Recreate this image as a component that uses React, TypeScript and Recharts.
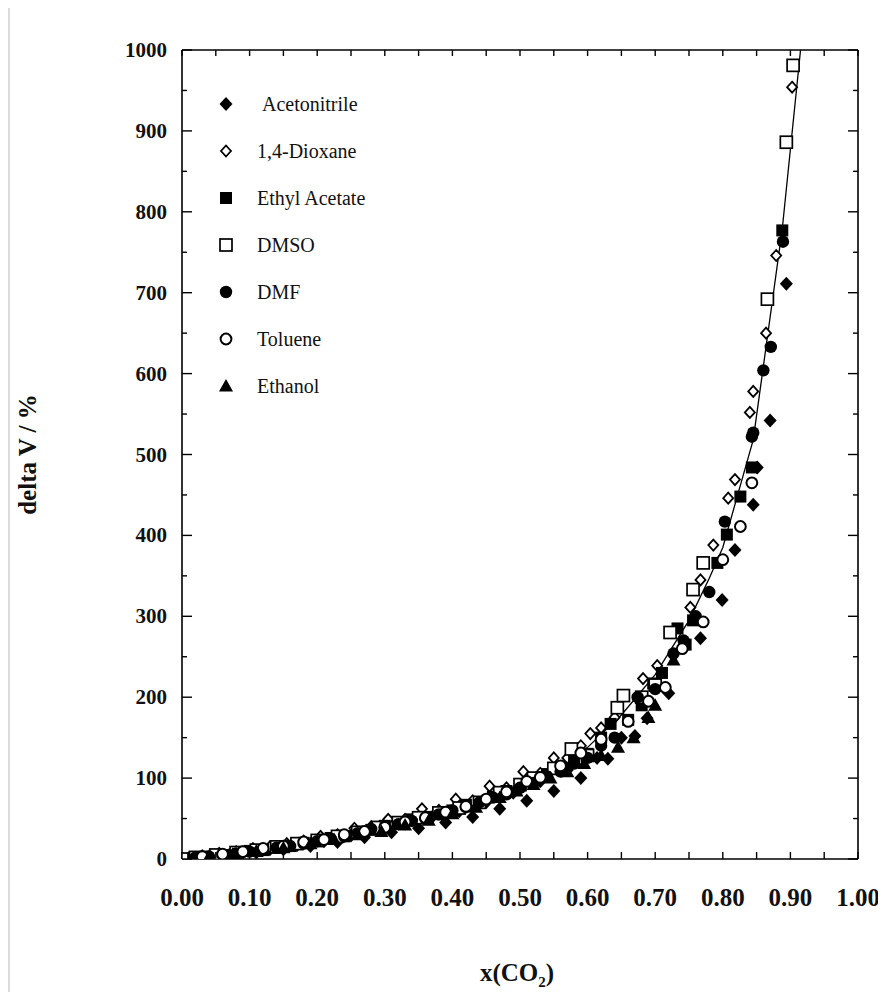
import React from 'react';
import { ScatterChart, Scatter, XAxis, YAxis, Legend } from 'recharts';

const acetonitrile = [
  { x: 0.01, y: 1 }, { x: 0.03, y: 2 }, { x: 0.05, y: 4 }, { x: 0.07, y: 5 }, { x: 0.09, y: 8 },
  { x: 0.11, y: 8 }, { x: 0.13, y: 12 }, { x: 0.15, y: 12 }, { x: 0.17, y: 17 }, { x: 0.19, y: 16 },
  { x: 0.21, y: 22 }, { x: 0.23, y: 21 }, { x: 0.25, y: 29 }, { x: 0.27, y: 27 }, { x: 0.29, y: 36 },
  { x: 0.31, y: 33 }, { x: 0.33, y: 44 }, { x: 0.35, y: 38 }, { x: 0.37, y: 52 }, { x: 0.39, y: 45 },
  { x: 0.41, y: 59 }, { x: 0.43, y: 52 }, { x: 0.45, y: 70 }, { x: 0.47, y: 62 }, { x: 0.49, y: 82 },
  { x: 0.51, y: 72 }, { x: 0.53, y: 96 }, { x: 0.55, y: 84 }, { x: 0.57, y: 110 }, { x: 0.59, y: 100 },
  { x: 0.614, y: 125 }, { x: 0.63, y: 124 }, { x: 0.65, y: 150 }, { x: 0.67, y: 152 }, { x: 0.688, y: 174 },
  { x: 0.72, y: 205 }, { x: 0.767, y: 273 }, { x: 0.799, y: 320 }, { x: 0.818, y: 382 }, { x: 0.845, y: 438 },
  { x: 0.851, y: 484 }, { x: 0.87, y: 542 }, { x: 0.894, y: 711 },
];
const dioxane = [
  { x: 0.03, y: 4 }, { x: 0.055, y: 7 }, { x: 0.08, y: 9 }, { x: 0.105, y: 13 }, { x: 0.13, y: 15 },
  { x: 0.155, y: 19 }, { x: 0.18, y: 22 }, { x: 0.205, y: 28 }, { x: 0.23, y: 30 }, { x: 0.255, y: 38 },
  { x: 0.28, y: 40 }, { x: 0.305, y: 49 }, { x: 0.33, y: 49 }, { x: 0.355, y: 62 }, { x: 0.38, y: 60 },
  { x: 0.405, y: 74 }, { x: 0.43, y: 72 }, { x: 0.455, y: 90 }, { x: 0.48, y: 88 }, { x: 0.505, y: 108 },
  { x: 0.53, y: 106 }, { x: 0.55, y: 125 }, { x: 0.57, y: 125 }, { x: 0.59, y: 140 }, { x: 0.604, y: 155 },
  { x: 0.62, y: 162 }, { x: 0.64, y: 175 }, { x: 0.682, y: 223 }, { x: 0.703, y: 239 }, { x: 0.752, y: 311 },
  { x: 0.767, y: 345 }, { x: 0.786, y: 388 }, { x: 0.808, y: 446 }, { x: 0.818, y: 469 }, { x: 0.84, y: 552 },
  { x: 0.845, y: 578 }, { x: 0.864, y: 650 }, { x: 0.879, y: 746 }, { x: 0.9025, y: 954 },
];
const ethylAcetate = [
  { x: 0.0, y: 0 }, { x: 0.02, y: 2 }, { x: 0.04, y: 3 }, { x: 0.06, y: 5 }, { x: 0.08, y: 7 },
  { x: 0.1, y: 10 }, { x: 0.12, y: 11 }, { x: 0.14, y: 14 }, { x: 0.16, y: 16 }, { x: 0.18, y: 20 },
  { x: 0.2, y: 22 }, { x: 0.22, y: 26 }, { x: 0.24, y: 28 }, { x: 0.26, y: 33 }, { x: 0.28, y: 36 },
  { x: 0.3, y: 41 }, { x: 0.32, y: 44 }, { x: 0.34, y: 49 }, { x: 0.36, y: 52 }, { x: 0.38, y: 57 },
  { x: 0.4, y: 60 }, { x: 0.42, y: 67 }, { x: 0.44, y: 70 }, { x: 0.46, y: 77 }, { x: 0.48, y: 84 },
  { x: 0.5, y: 91 }, { x: 0.52, y: 98 }, { x: 0.54, y: 105 }, { x: 0.56, y: 112 }, { x: 0.58, y: 123 },
  { x: 0.6, y: 130 }, { x: 0.62, y: 150 }, { x: 0.634, y: 167 }, { x: 0.66, y: 172 }, { x: 0.68, y: 190 },
  { x: 0.697, y: 217 }, { x: 0.71, y: 230 }, { x: 0.733, y: 285 }, { x: 0.745, y: 265 }, { x: 0.756, y: 295 },
  { x: 0.792, y: 366 }, { x: 0.806, y: 401 }, { x: 0.826, y: 448 }, { x: 0.843, y: 484 }, { x: 0.888, y: 777 },
];
const dmso = [
  { x: 0.0, y: 0 }, { x: 0.02, y: 2 }, { x: 0.05, y: 5 }, { x: 0.08, y: 8 }, { x: 0.11, y: 11 },
  { x: 0.14, y: 15 }, { x: 0.17, y: 19 }, { x: 0.2, y: 23 }, { x: 0.23, y: 28 }, { x: 0.26, y: 33 },
  { x: 0.29, y: 39 }, { x: 0.32, y: 45 }, { x: 0.35, y: 51 }, { x: 0.38, y: 57 }, { x: 0.41, y: 63 },
  { x: 0.44, y: 70 }, { x: 0.47, y: 82 }, { x: 0.5, y: 92 }, { x: 0.52, y: 100 }, { x: 0.55, y: 112 },
  { x: 0.576, y: 136 }, { x: 0.6, y: 128 }, { x: 0.644, y: 187 }, { x: 0.653, y: 202 }, { x: 0.68, y: 200 },
  { x: 0.7, y: 215 }, { x: 0.722, y: 280 }, { x: 0.756, y: 333 }, { x: 0.771, y: 366 }, { x: 0.866, y: 692 },
  { x: 0.894, y: 886 }, { x: 0.904, y: 981 },
];
const dmf = [
  { x: 0.02, y: 2 }, { x: 0.04, y: 3 }, { x: 0.06, y: 5 }, { x: 0.08, y: 7 }, { x: 0.1, y: 9 },
  { x: 0.12, y: 11 }, { x: 0.14, y: 14 }, { x: 0.16, y: 16 }, { x: 0.18, y: 19 }, { x: 0.2, y: 22 },
  { x: 0.22, y: 25 }, { x: 0.24, y: 28 }, { x: 0.26, y: 32 }, { x: 0.28, y: 37 }, { x: 0.3, y: 40 },
  { x: 0.32, y: 43 }, { x: 0.34, y: 47 }, { x: 0.36, y: 50 }, { x: 0.38, y: 55 }, { x: 0.4, y: 60 },
  { x: 0.42, y: 64 }, { x: 0.44, y: 70 }, { x: 0.46, y: 76 }, { x: 0.48, y: 80 }, { x: 0.5, y: 88 },
  { x: 0.52, y: 94 }, { x: 0.54, y: 102 }, { x: 0.56, y: 108 }, { x: 0.58, y: 118 }, { x: 0.6, y: 125 },
  { x: 0.62, y: 140 }, { x: 0.64, y: 150 }, { x: 0.674, y: 200 }, { x: 0.7, y: 210 }, { x: 0.727, y: 254 },
  { x: 0.742, y: 270 }, { x: 0.76, y: 300 }, { x: 0.78, y: 330 }, { x: 0.803, y: 417 }, { x: 0.843, y: 522 },
  { x: 0.845, y: 527 }, { x: 0.86, y: 604 }, { x: 0.871, y: 633 }, { x: 0.889, y: 763 },
];
const toluene = [
  { x: 0.03, y: 3 }, { x: 0.06, y: 6 }, { x: 0.09, y: 9 }, { x: 0.12, y: 13 }, { x: 0.15, y: 16 },
  { x: 0.18, y: 21 }, { x: 0.21, y: 24 }, { x: 0.24, y: 30 }, { x: 0.27, y: 34 }, { x: 0.3, y: 39 },
  { x: 0.33, y: 46 }, { x: 0.36, y: 51 }, { x: 0.39, y: 58 }, { x: 0.42, y: 65 }, { x: 0.45, y: 74 },
  { x: 0.48, y: 83 }, { x: 0.51, y: 96 }, { x: 0.53, y: 101 }, { x: 0.56, y: 115 }, { x: 0.59, y: 131 },
  { x: 0.62, y: 148 }, { x: 0.66, y: 170 }, { x: 0.69, y: 195 }, { x: 0.715, y: 212 }, { x: 0.74, y: 260 },
  { x: 0.771, y: 293 }, { x: 0.8, y: 370 }, { x: 0.826, y: 411 }, { x: 0.843, y: 465 },
];
const ethanol = [
  { x: 0.04, y: 3 }, { x: 0.075, y: 6 }, { x: 0.11, y: 10 }, { x: 0.15, y: 14 }, { x: 0.19, y: 19 },
  { x: 0.225, y: 24 }, { x: 0.26, y: 30 }, { x: 0.295, y: 34 }, { x: 0.33, y: 42 }, { x: 0.365, y: 48 },
  { x: 0.4, y: 56 }, { x: 0.435, y: 64 }, { x: 0.47, y: 76 }, { x: 0.495, y: 84 }, { x: 0.52, y: 92 },
  { x: 0.545, y: 100 }, { x: 0.57, y: 108 }, { x: 0.595, y: 118 }, { x: 0.62, y: 128 }, { x: 0.645, y: 138 },
  { x: 0.668, y: 150 }, { x: 0.69, y: 175 }, { x: 0.7, y: 190 }, { x: 0.727, y: 246 },
];
const fitCurve = [
  { x: 0, y: 0 }, { x: 0.1, y: 9 }, { x: 0.2, y: 21 }, { x: 0.3, y: 38 }, { x: 0.4, y: 58 },
  { x: 0.5, y: 88 }, { x: 0.55, y: 110 }, { x: 0.6, y: 138 }, { x: 0.65, y: 178 }, { x: 0.7, y: 228 },
  { x: 0.75, y: 295 }, { x: 0.78, y: 347 }, { x: 0.8, y: 385 }, { x: 0.845, y: 518 }, { x: 0.888, y: 779 },
  { x: 0.915, y: 1000 },
];

const xTicks = [0, 0.05, 0.1, 0.15, 0.2, 0.25, 0.3, 0.35, 0.4, 0.45, 0.5, 0.55, 0.6, 0.65, 0.7, 0.75, 0.8, 0.85, 0.9, 0.95, 1];
const xTickLabels = ['0.00', '0.10', '0.20', '0.30', '0.40', '0.50', '0.60', '0.70', '0.80', '0.90', '1.00'];
const yTicks = [0, 50, 100, 150, 200, 250, 300, 350, 400, 450, 500, 550, 600, 650, 700, 750, 800, 850, 900, 950, 1000];
const yTickLabels = ['0', '100', '200', '300', '400', '500', '600', '700', '800', '900', '1000'];

const FONT = '"Liberation Serif", "Times New Roman", serif';
const TM = 4;

const diamondFilled = (cx: number, cy: number) => (
  <path d={`M${cx},${cy - 7} L${cx + 6.5},${cy} L${cx},${cy + 7} L${cx - 6.5},${cy} Z`} fill="#000" />
);
const diamondOpen = (cx: number, cy: number) => (
  <path d={`M${cx},${cy - 5.5} L${cx + 5},${cy} L${cx},${cy + 5.5} L${cx - 5},${cy} Z`} fill="#fff" stroke="#000" strokeWidth={1.8} />
);
const squareFilled = (cx: number, cy: number) => (
  <rect x={cx - 6} y={cy - 6} width={12} height={12} fill="#000" />
);
const squareOpen = (cx: number, cy: number) => (
  <rect x={cx - 6} y={cy - 6} width={12} height={12} fill="#fff" stroke="#000" strokeWidth={1.7} />
);
const circleFilled = (cx: number, cy: number) => <circle cx={cx} cy={cy} r={6.2} fill="#000" />;
const circleOpen = (cx: number, cy: number) => (
  <circle cx={cx} cy={cy} r={5.4} fill="#fff" stroke="#000" strokeWidth={2} />
);
const triangleFilled = (cx: number, cy: number) => (
  <path d={`M${cx},${cy - 7} L${cx + 7},${cy + 5.5} L${cx - 7},${cy + 5.5} Z`} fill="#000" />
);

const seriesList = [
  { name: 'Acetonitrile', data: acetonitrile, draw: diamondFilled, indent: 5 },
  { name: '1,4-Dioxane', data: dioxane, draw: diamondOpen, indent: 0 },
  { name: 'Ethyl Acetate', data: ethylAcetate, draw: squareFilled, indent: 0 },
  { name: 'DMSO', data: dmso, draw: squareOpen, indent: 0 },
  { name: 'DMF', data: dmf, draw: circleFilled, indent: 0 },
  { name: 'Toluene', data: toluene, draw: circleOpen, indent: 0 },
  { name: 'Ethanol', data: ethanol, draw: triangleFilled, indent: 0 },
];

const xLabelFor = (v: number) => {
  const i = Math.round(v * 100);
  return i % 10 === 0 ? xTickLabels[i / 10] : null;
};
const yLabelFor = (v: number) => (v % 100 === 0 ? yTickLabels[v / 100] : null);

const BottomTick = (props: any) => {
  const { x, y, payload } = props;
  const axisY = y - TM;
  const label = xLabelFor(payload.value);
  return (
    <g>
      <line x1={x} x2={x} y1={axisY} y2={axisY - 7} stroke="#000" strokeWidth={1.4} />
      {label !== null && (
        <text x={x} y={axisY + 47} textAnchor="middle" fontFamily={FONT} fontWeight="bold" fontSize={25} fill="#111">
          {label}
        </text>
      )}
    </g>
  );
};
const TopTick = (props: any) => {
  const { x, y } = props;
  const axisY = y + TM;
  return <line x1={x} x2={x} y1={axisY} y2={axisY + 6} stroke="#000" strokeWidth={1.4} />;
};
const LeftTick = (props: any) => {
  const { x, y, payload } = props;
  const axisX = x + TM;
  const label = yLabelFor(payload.value);
  const len = label !== null ? 10 : 5;
  return (
    <g>
      <line x1={axisX} x2={axisX + len} y1={y} y2={y} stroke="#000" strokeWidth={1.4} />
      {label !== null && (
        <text x={axisX - 15} y={y + 7} textAnchor="end" fontFamily={FONT} fontWeight="bold" fontSize={21} fill="#111">
          {label}
        </text>
      )}
    </g>
  );
};
const RightTick = (props: any) => {
  const { x, y, payload } = props;
  const axisX = x - TM;
  const len = payload.value % 100 === 0 ? 10 : 5;
  return <line x1={axisX} x2={axisX - len} y1={y} y2={y} stroke="#000" strokeWidth={1.4} />;
};

const YTitle = (props: any) => {
  const vb = props.viewBox;
  const cx = vb.x - 86;
  const cy = vb.y + vb.height / 2;
  return (
    <text x={cx} y={cy} transform={`rotate(-90, ${cx}, ${cy})`} textAnchor="middle" fontFamily={FONT} fontWeight="bold" fontSize={25} fill="#111">
      delta V / %
    </text>
  );
};
const XTitle = (props: any) => {
  const vb = props.viewBox;
  const cx = vb.x + vb.width / 2 - 3;
  const cy = vb.y + 122;
  return (
    <text x={cx} y={cy} textAnchor="middle" fontFamily={FONT} fontWeight="bold" fontSize={25} fill="#111">
      x(CO<tspan fontSize={15} dy={6}>2</tspan><tspan dy={-6}>)</tspan>
    </text>
  );
};

const LegendBox = () => (
  <div style={{ fontFamily: FONT, fontSize: 20, color: '#111' }}>
    {seriesList.map((s) => (
      <div key={s.name} style={{ display: 'flex', alignItems: 'center', height: 47 }}>
        <svg width={20} height={20} style={{ display: 'block' }}>
          {s.draw(10, 10)}
        </svg>
        <span style={{ marginLeft: 21 + s.indent, lineHeight: '20px' }}>{s.name}</span>
      </div>
    ))}
  </div>
);

const noShape = () => <g />;

export default function App() {
  return (
    <div style={{ position: 'relative', width: 878, height: 984 }}>
      <div style={{ position: 'absolute', left: 0, top: -8, width: 2, height: 992, background: '#dcdcdc' }} />
      <ScatterChart width={878} height={984} margin={{ top: 32, right: 18, bottom: 93, left: 114 }}>
        <XAxis
          xAxisId="bottom"
          dataKey="x"
          type="number"
          domain={[0, 1]}
          allowDataOverflow
          ticks={xTicks}
          interval={0}
          tickSize={0}
          tickMargin={TM}
          tickLine={false}
          tick={<BottomTick />}
          axisLine={{ stroke: '#000', strokeWidth: 1.6 }}
          height={40}
          label={<XTitle />}
        />
        <XAxis
          xAxisId="top"
          orientation="top"
          dataKey="x"
          type="number"
          domain={[0, 1]}
          allowDataOverflow
          ticks={xTicks}
          interval={0}
          tickSize={0}
          tickMargin={TM}
          tickLine={false}
          tick={<TopTick />}
          axisLine={{ stroke: '#000', strokeWidth: 1.6 }}
          height={10}
        />
        <YAxis
          yAxisId="left"
          dataKey="y"
          type="number"
          domain={[0, 1000]}
          allowDataOverflow
          ticks={yTicks}
          interval={0}
          tickSize={0}
          tickMargin={TM}
          tickLine={false}
          tick={<LeftTick />}
          axisLine={{ stroke: '#000', strokeWidth: 1.6 }}
          width={60}
          label={<YTitle />}
        />
        <YAxis
          yAxisId="right"
          orientation="right"
          dataKey="y"
          type="number"
          domain={[0, 1000]}
          allowDataOverflow
          ticks={yTicks}
          interval={0}
          tickSize={0}
          tickMargin={TM}
          tickLine={false}
          tick={<RightTick />}
          axisLine={{ stroke: '#000', strokeWidth: 1.6 }}
          width={10}
        />
        <Legend
          layout="vertical"
          align="center"
          verticalAlign="middle"
          content={<LegendBox />}
          wrapperStyle={{ left: 208, top: 72, width: 200, height: 330 }}
        />
        <Scatter
          name="fit"
          data={fitCurve}
          xAxisId="top"
          yAxisId="right"
          line={{ stroke: '#000', strokeWidth: 1.3 }}
          lineType="joint"
          shape={noShape}
          legendType="none"
          isAnimationActive={false}
        />
        {seriesList.map((s) => (
          <Scatter
            key={s.name}
            name={s.name}
            data={s.data}
            xAxisId="bottom"
            yAxisId="left"
            shape={(p: any) => s.draw(p.cx, p.cy)}
            isAnimationActive={false}
          />
        ))}
      </ScatterChart>
    </div>
  );
}
